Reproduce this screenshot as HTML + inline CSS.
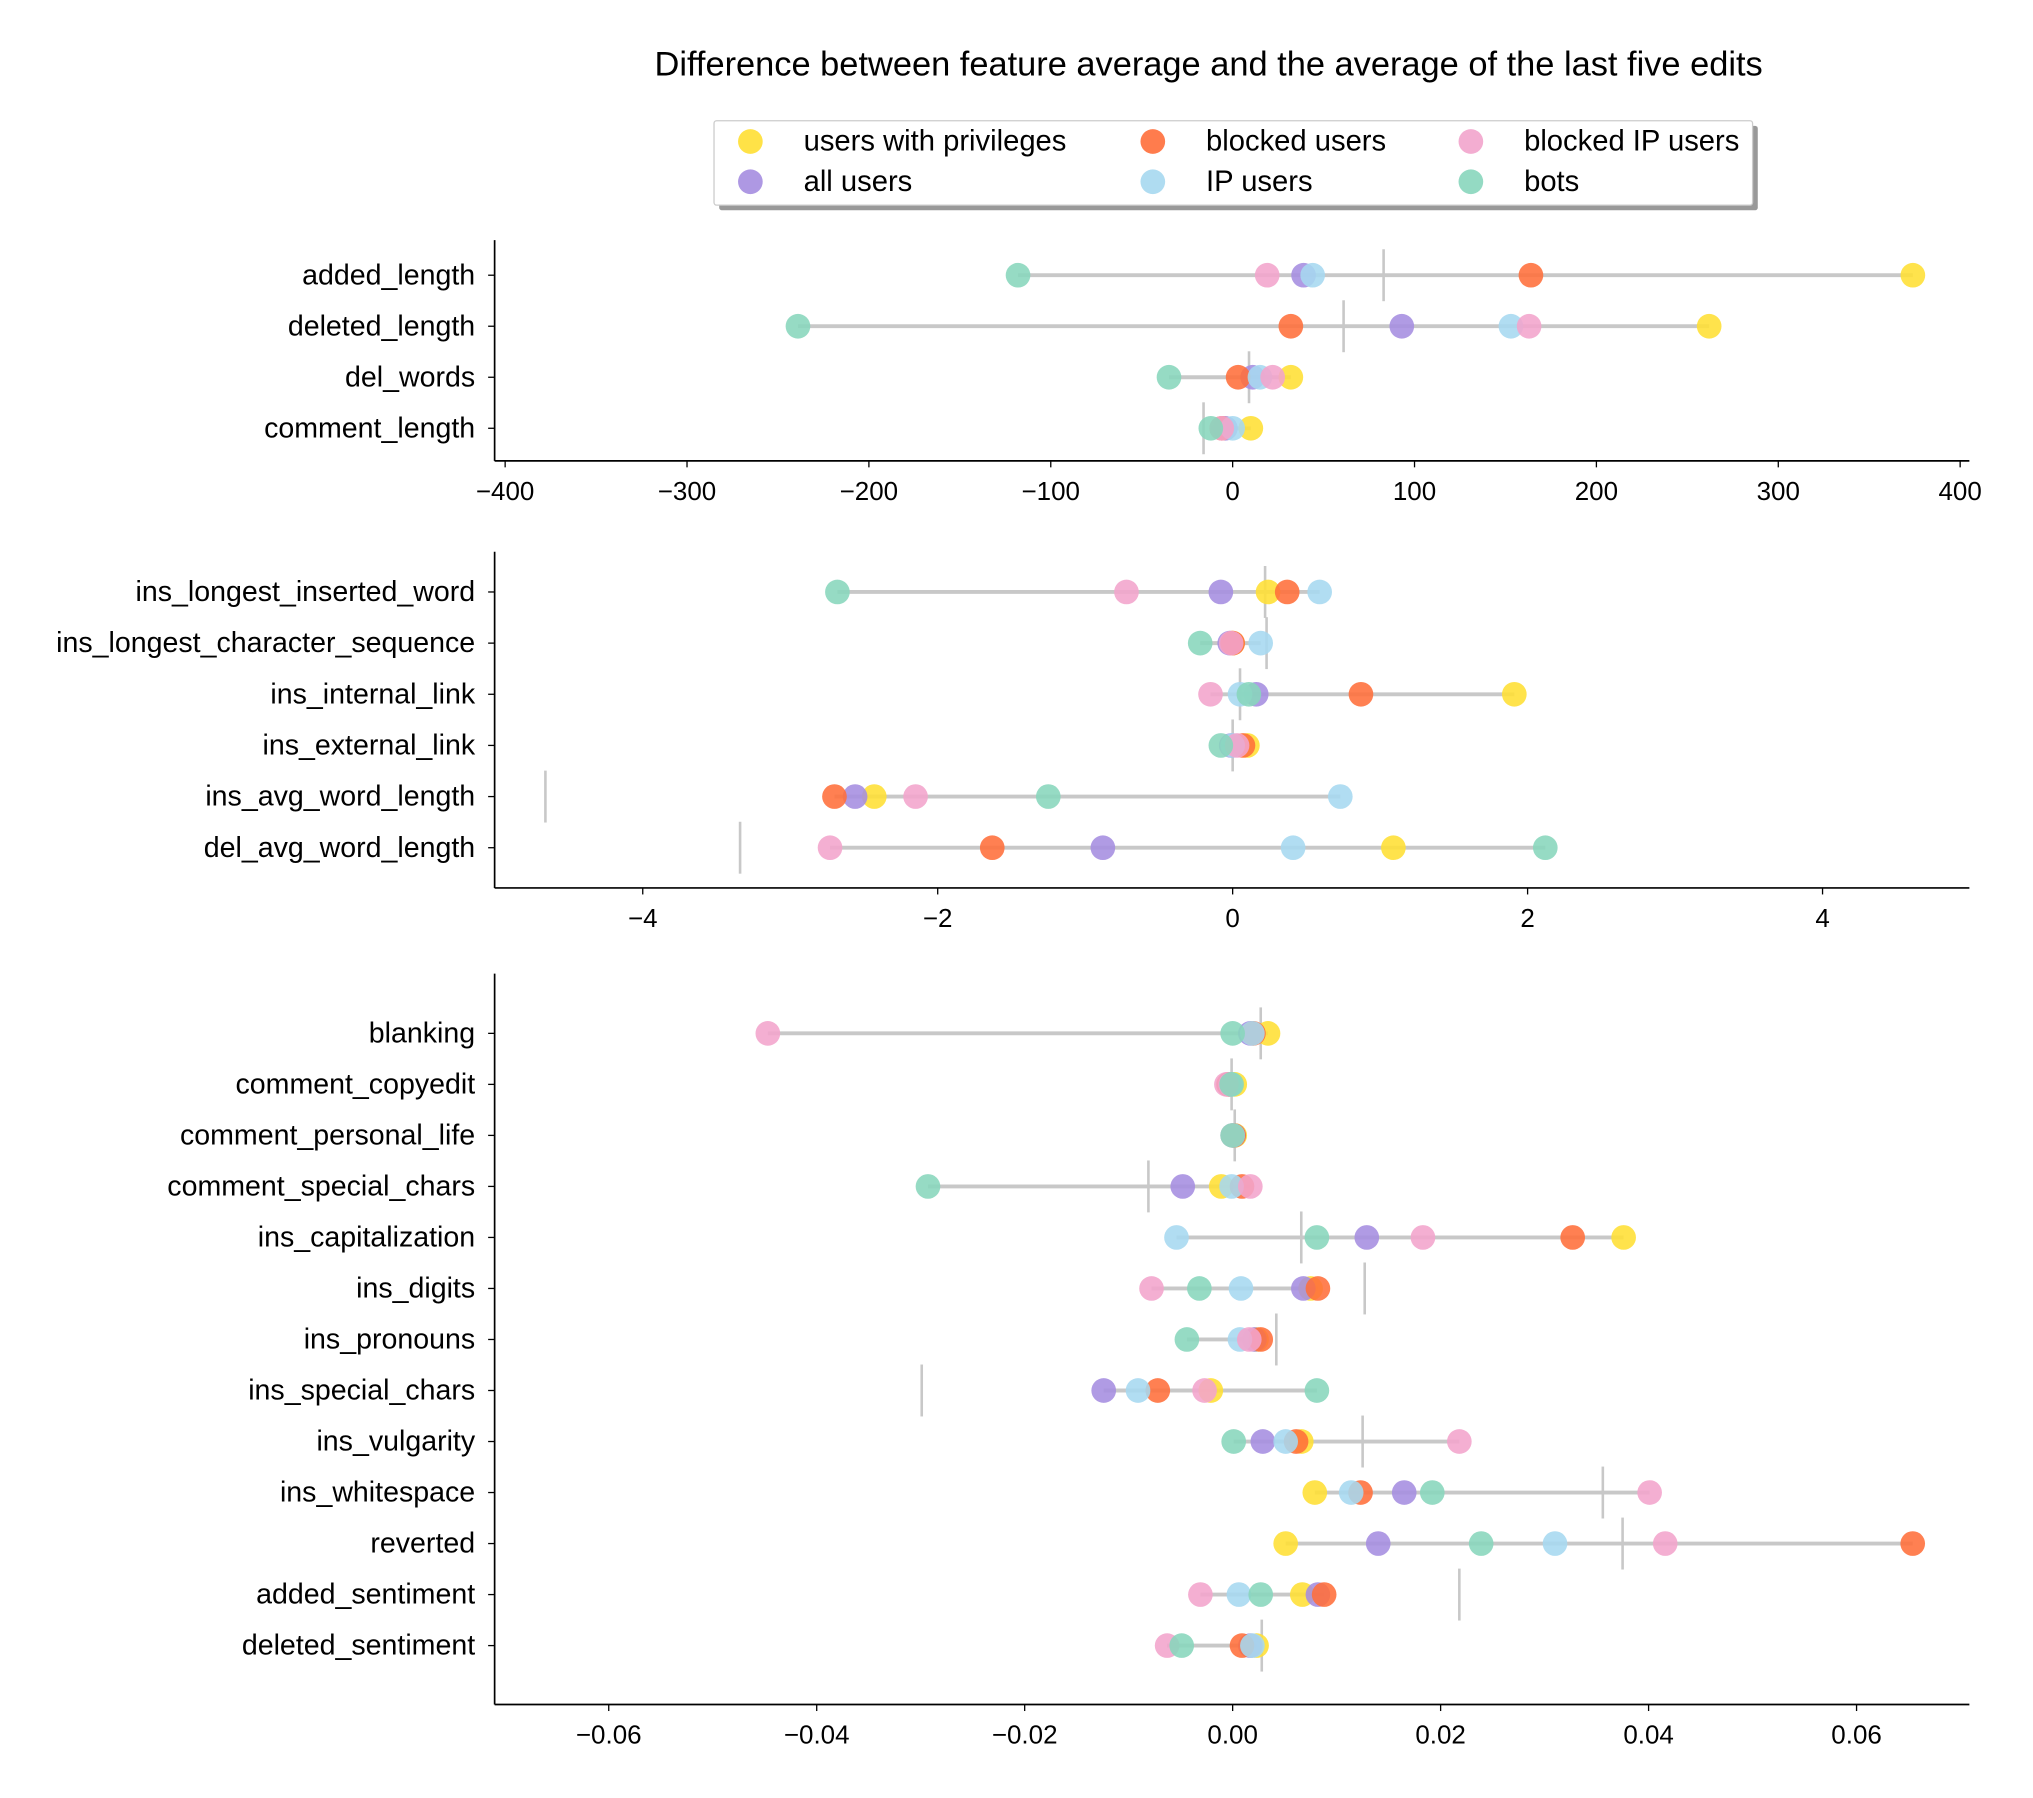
<!DOCTYPE html>
<html><head><meta charset="utf-8"><style>
html,body{margin:0;padding:0;background:#fff}
svg{display:block;font-family:"Liberation Sans",sans-serif}
</style></head><body>
<svg id="chart" width="2033" height="1798" viewBox="0 0 1566 1385" xmlns="http://www.w3.org/2000/svg">
<text x="931" y="58" font-size="26.5" text-anchor="middle">Difference between feature average and the average of the last five edits</text>
<g>
<rect x="554" y="97" width="800" height="65" fill="#999" rx="2"/>
<rect x="550" y="93" width="800" height="65" fill="#fff" stroke="#ccc" stroke-width="1" rx="2"/>
</g>
<g id="panels"></g>
</svg>
<script>
const groups = ["users with privileges","all users","blocked users","IP users","blocked IP users","bots"];
const colors = ["#FFDF33","#A58DE0","#FF6E3A","#A6D8F0","#F2A4CC","#88D6BC"];
// panel 1
const cats1 = ["added_length","deleted_length","del_words","comment_length"];
const priv1 = [374,262,32,10];
const all1 = [39,93,11,-4];
const blocked1 = [164,32,3,-6];
const ip1 = [44,153,15,0];
const blockedIp1 = [19,163,22,-6];
const bots1 = [-118,-239,-35,-12];
const means1 = [83,61,9,-16];
const ticks1 = [-400,-300,-200,-100,0,100,200,300,400];
const tickLabels1 = ["−400","−300","−200","−100","0","100","200","300","400"];
// panel 2
const cats2 = ["ins_longest_inserted_word","ins_longest_character_sequence","ins_internal_link","ins_external_link","ins_avg_word_length","del_avg_word_length"];
const priv2 = [0.24,0.0,1.91,0.10,-2.43,1.09];
const all2 = [-0.08,-0.02,0.16,-0.01,-2.56,-0.88];
const blocked2 = [0.37,0.0,0.87,0.07,-2.70,-1.63];
const ip2 = [0.59,0.19,0.05,0.0,0.73,0.41];
const blockedIp2 = [-0.72,-0.01,-0.15,0.03,-2.15,-2.73];
const bots2 = [-2.68,-0.22,0.11,-0.08,-1.25,2.12];
const means2 = [0.22,0.23,0.05,0.0,-4.66,-3.34];
const ticks2 = [-4,-2,0,2,4];
const tickLabels2 = ["−4","−2","0","2","4"];
// panel 3
const cats3 = ["blanking","comment_copyedit","comment_personal_life","comment_special_chars","ins_capitalization","ins_digits","ins_pronouns","ins_special_chars","ins_vulgarity","ins_whitespace","reverted","added_sentiment","deleted_sentiment"];
const priv3 = [0.0034,0.0002,0.0002,-0.0011,0.0376,0.0075,0.0023,-0.0021,0.0066,0.0079,0.0051,0.0067,0.0023];
const all3 = [0.0017,-0.0003,0.0001,-0.0048,0.0129,0.0068,0.0021,-0.0124,0.0029,0.0165,0.0140,0.0082,0.0017];
const blocked3 = [0.0020,-0.0004,0.0001,0.0009,0.0327,0.0082,0.0027,-0.0072,0.0061,0.0123,0.0654,0.0088,0.0009];
const ip3 = [0.0019,-0.0002,0.0,-0.0001,-0.0054,0.0008,0.0007,-0.0091,0.0051,0.0114,0.0310,0.0006,0.0019];
const blockedIp3 = [-0.0447,-0.0006,0.0,0.0017,0.0183,-0.0078,0.0016,-0.0027,0.0218,0.0401,0.0416,-0.0031,-0.0063];
const bots3 = [0.0,-0.0001,0.0,-0.0293,0.0081,-0.0032,-0.0044,0.0081,0.0001,0.0192,0.0239,0.0027,-0.0049];
const means3 = [0.0027,-0.0001,0.0002,-0.0081,0.0066,0.0127,0.0042,-0.0299,0.0125,0.0356,0.0375,0.0218,0.0028];
const ticks3 = [-0.06,-0.04,-0.02,0,0.02,0.04,0.06];
const tickLabels3 = ["−0.06","−0.04","−0.02","0.00","0.02","0.04","0.06"];

const NS="http://www.w3.org/2000/svg";
const root=document.getElementById('panels');
const svg=document.getElementById('chart');
function mk(tag,attrs,parent){const e=document.createElementNS(NS,tag);for(const k in attrs)e.setAttribute(k,attrs[k]);(parent||root).appendChild(e);return e;}

const legPos=[[578,109],[578,140],[888,109],[888,140],[1133,109],[1133,140]];
groups.forEach((g,i)=>{
  const c=mk('circle',{cx:legPos[i][0],cy:legPos[i][1],r:9.5,fill:colors[i],'fill-opacity':0.9},svg);
  
  
  const t=mk('text',{x:legPos[i][0]+41,y:legPos[i][1]+7,'font-size':22.5},svg);
  t.textContent=g;
  
  
});

function panel(name,cats,series,means,ticks,labels,zeroPx,scale,top,bottom,rowY0,rowStep){
  const g=mk('g',{});
  
  
  const xs=v=>zeroPx+v*scale;
  const ys=i=>rowY0+i*rowStep;
  mk('line',{x1:381,y1:top,x2:381,y2:bottom,stroke:'#000','stroke-width':1.3},g);
  mk('line',{x1:381,y1:bottom,x2:1517,y2:bottom,stroke:'#000','stroke-width':1.3},g);
  ticks.forEach((t,i)=>{
    mk('line',{x1:xs(t),y1:bottom,x2:xs(t),y2:bottom+5,stroke:'#000','stroke-width':1},g);
    const tx=mk('text',{x:xs(t),y:bottom+30,'font-size':20,'text-anchor':'middle'},g);
    tx.textContent=labels[i];
    
    
  });
  cats.forEach((c,i)=>{
    const y=ys(i);
    mk('line',{x1:376,y1:y,x2:381,y2:y,stroke:'#000','stroke-width':1},g);
    const tl=mk('text',{x:366,y:y+7,'font-size':22,'text-anchor':'end'},g);
    tl.textContent=c;
    
    
    const vals=series.map(s=>s[i]);
    const mn=Math.min(...vals),mx=Math.max(...vals);
    const rl=mk('line',{x1:xs(mn),y1:y,x2:xs(mx),y2:y,stroke:'#c8c8c8','stroke-width':3},g);
    
    
    const ml=mk('line',{x1:xs(means[i]),y1:y-20,x2:xs(means[i]),y2:y+20,stroke:'#c8c8c8','stroke-width':2},g);
    
    
    series.forEach((s,k)=>{
      const d=mk('circle',{cx:xs(s[i]),cy:y,r:9.5,fill:colors[k],'fill-opacity':0.88},g);
      
      
    });
  });
}
panel('panel-lengths',cats1,[priv1,all1,blocked1,ip1,blockedIp1,bots1],means1,ticks1,tickLabels1,949.5,1.401,185,355,212,39.3);
panel('panel-word-features',cats2,[priv2,all2,blocked2,ip2,blockedIp2,bots2],means2,ticks2,tickLabels2,949.5,113.6,425,684,456,39.4);
panel('panel-ratios',cats3,[priv3,all3,blocked3,ip3,blockedIp3,bots3],means3,ticks3,tickLabels3,949.5,8010,750,1313,796,39.3);
</script>
</body></html>
